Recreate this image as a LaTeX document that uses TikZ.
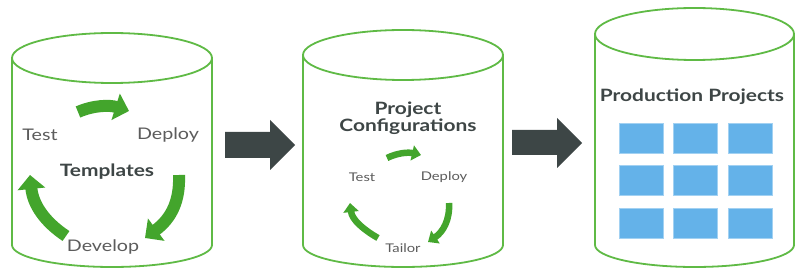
\documentclass[tikz,border=0pt]{standalone}
\usepackage{fontspec}
\setmainfont{Lato}[FakeStretch=1.23]
\usetikzlibrary{arrows.meta}
\definecolor{cylgreen}{HTML}{5FBA45}
\definecolor{arrgreen}{HTML}{43A52C}
\definecolor{txtgray}{HTML}{5C5C5C}
\definecolor{ttlgray}{HTML}{3E4646}
\definecolor{boxblue}{HTML}{64B2E9}
\definecolor{bigarrow}{HTML}{3D4646}
\tikzset{
  cyl/.style={draw=cylgreen, line width=1.8pt, fill=white},
  lbl/.style={text=txtgray, font=\fontsize{16}{18}\selectfont, inner sep=0pt},
  slbl/.style={text=txtgray, font=\fontsize{12}{14}\selectfont, inner sep=0pt},
  ttl/.style={text=ttlgray, font=\bfseries\fontsize{17}{20}\selectfont, inner sep=0pt, align=center},
  garrow/.style={draw=arrgreen, line width=12pt, -{Triangle[length=14pt,width=27pt]}},
  sgarrow/.style={draw=arrgreen, line width=6.5pt, -{Triangle[length=9pt,width=15pt]}},
  blk/.style={fill=boxblue, draw=boxblue!60!white, line width=0.6pt, minimum width=44pt, minimum height=30pt, inner sep=0pt},
  bigarr/.style={fill=bigarrow}
}
\begin{document}
\begin{tikzpicture}[x=1pt,y=-1pt]
\useasboundingbox (0,0) rectangle (800,272);
% cylinder 1
\path[cyl] (12,58) -- (12,245) arc[start angle=180,end angle=360,x radius=100,y radius=-22] -- (212,58);
\draw[cyl] (112,58) ellipse [x radius=100, y radius=25];
% cylinder 2
\path[cyl] (303,55) -- (303,245) arc[start angle=180,end angle=360,x radius=100,y radius=-22] -- (503,55);
\draw[cyl] (403,55) ellipse [x radius=100, y radius=25];
% cylinder 3
\path[cyl] (595,34) -- (595,245) arc[start angle=180,end angle=360,x radius=99.5,y radius=-22] -- (794,34);
\draw[cyl] (694.5,34) ellipse [x radius=99.5, y radius=26];

% cylinder 1 content
\node[lbl] (t1) at (40,135) {Test};
\node[lbl] (d1) at (168,135) {Deploy};
\node[ttl] (tmpl) at (107,172) {Templates};
\node[lbl] (dv1) at (103,247) {Develop};
\coordinate (a1s) at (78,112);
\coordinate (a1e) at (129,111);
\draw[garrow] (a1s) .. controls (94,105) and (110,105) .. (a1e);
\coordinate (a2s) at (179,175);
\coordinate (a2e) at (145,238);
\draw[garrow] (a2s) .. controls (180,200) and (172,218) .. (a2e);
\coordinate (a3s) at (66,236);
\coordinate (a3e) at (30,175);
\draw[garrow] (a3s) .. controls (45,222) and (33,205) .. (a3e);

% cylinder 2 content
\node[ttl] (pc) at (408,118) {Project\\[-3pt]Configurations};
\node[slbl] (t2) at (362,177) {Test};
\node[slbl] (d2) at (444,177) {Deploy};
\node[slbl] (tl2) at (403,248) {Tailor};
\coordinate (b1s) at (387,158);
\coordinate (b1e) at (421,155);
\draw[sgarrow] (b1s) .. controls (397,153) and (408,152) .. (b1e);
\coordinate (b2s) at (449,203);
\coordinate (b2e) at (428,242);
\draw[sgarrow] (b2s) .. controls (450,220) and (443,232) .. (b2e);
\coordinate (b3s) at (378,238);
\coordinate (b3e) at (350,203);
\draw[sgarrow] (b3s) .. controls (364,230) and (352,220) .. (b3e);

% cylinder 3 content
\node[ttl] (pp) at (692,97) {Production Projects};
\foreach \i/\x in {1/641,2/695.5,3/750}{
  \foreach \j/\y in {1/138,2/180.5,3/223}{
    \node[blk] (s\i\j) at (\x,\y) {};
  }
}

% big arrows
\path[bigarr] (225,132) -- (270,132) -- (270,120) -- (295,145) -- (270,170) -- (270,158) -- (225,158) -- cycle;
\path[bigarr] (512,130) -- (557,130) -- (557,118) -- (582,143) -- (557,168) -- (557,155) -- (512,155) -- cycle;
\end{tikzpicture}
\end{document}
